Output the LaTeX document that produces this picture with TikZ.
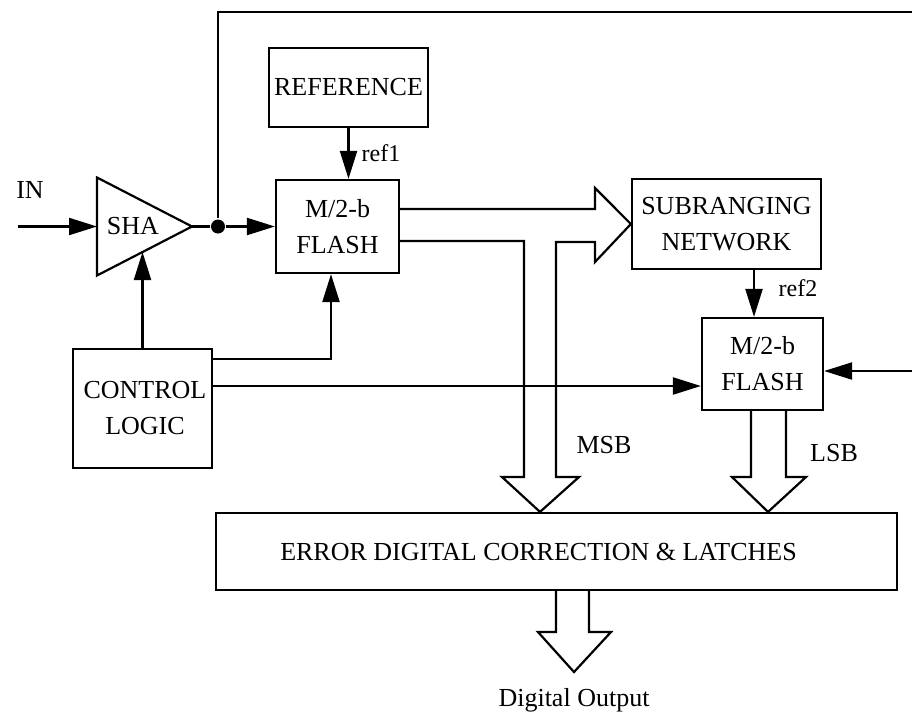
\documentclass[tikz,border=0pt]{standalone}
\usepackage{fontspec}
\setmainfont{Liberation Serif}
\usetikzlibrary{arrows.meta}

\begin{document}
\begin{tikzpicture}[x=1pt,y=-1pt,line width=2.2pt,
        every node/.style={font=\fontsize{26}{36}\selectfont},
        blk/.style={draw,inner sep=0pt,align=center},
        sig/.style={-{Triangle[length=28pt,width=17pt]}},
        tag/.style={font=\fontsize{24}{26}\selectfont}]
        \useasboundingbox (0,0) rectangle (912,716);
        % blocks
        \node[blk,minimum width=159pt,minimum height=79pt] (ref) at (348.5,87.5) {REFERENCE};
        \node[blk,minimum width=123pt,minimum height=93pt] (f1) at (337.5,226.5) {M/2-b\\FLASH};
        \node[blk,minimum width=189pt,minimum height=90pt] (sub) at (726.5,224) {SUBRANGING\\NETWORK};
        \node[blk,minimum width=121pt,minimum height=92pt] (f2) at (762.5,364) {M/2-b\\FLASH};
        \node[blk,minimum width=139pt,minimum height=119pt] (ctl) at (142.5,408.5) {\hspace*{5pt}CONTROL\\\hspace*{5pt}LOGIC};
        \node[blk,minimum width=681pt,minimum height=77pt] (err) at (556.5,551.5) {ERROR DIGITAL CORRECTION \& LATCHES\hspace*{36pt}};
        % SHA
        \draw (97,177.5) -- (192,226.5) coordinate (shaout) -- (97,275.5) -- cycle;
        \coordinate (shain) at (97,226.5);
        \coordinate (shactl) at (142.5,252);
        \node (sha) at (133,226.5) {SHA};
        \node[circle,fill,inner sep=0pt,minimum size=14pt] (jn) at (218,226.5) {};
        \coordinate (in) at (18,226.5);
        \node (inlbl) at (30,190) {IN};
        % signals
        \draw[sig] (in) -- (shain);
        \draw (shaout) -- (jn);
        \draw[sig] (jn) -- (f1.west);
        \draw[sig] (jn) |- (914,12) -- (914,371) -- (914,371 -| f2.east);
        \draw[sig] (ref.south) -- (ref.south |- f1.north);
        \node[tag] (r1) at (381,153) {ref1};
        \draw[sig] (ctl.north) -- (shactl);
        \draw[sig] (ctl.east |- 0,359) -| ([xshift=-6.5pt]f1.south);
        \draw[sig] (ctl.east |- 0,386) -- (f2.west |- 0,386);
        \draw[sig] (754,0 |- sub.south) -- (754,0 |- f2.north);
        \node[tag] (r2) at (798,288) {ref2};
        % buses
        \draw (f1.east |- 0,209) -- (595,209) -- (595,188) -- (sub.west) -- (595,262) -- (595,242) -- (556,242)
              -- (556,477) -- (579,477) -- (540,0 |- err.north) -- (502,477) -- (524,477) -- (524,241) -- (f1.east |- 0,241);
        \node (msb) at (604,445) {MSB};
        \draw (751,0 |- f2.south) -- (751,477) -- (732,477) -- (768,0 |- err.north) -- (806,477) -- (786,477) -- (786,0 |- f2.south);
        \node (lsb) at (834,453) {LSB};
        \draw (556,0 |- err.south) -- (556,632) -- (538,632) -- (574,672) -- (611,632) -- (589,632) -- (589,0 |- err.south);
        \node (out) at (574,700) {Digital Output};
\end{tikzpicture}
\end{document}
